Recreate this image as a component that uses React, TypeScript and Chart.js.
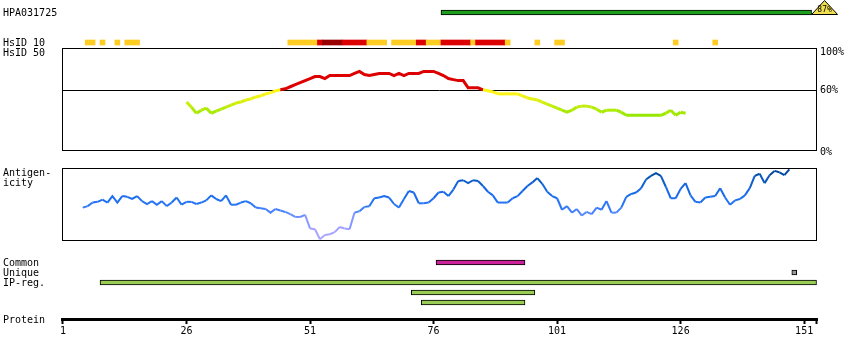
import React, { useEffect, useRef } from "react";
import { Chart, registerables } from "chart.js";

Chart.register(...registerables);

// ---------------- data ----------------
const PROTEIN_LENGTH = 153;
const TICK_VALUES = [1, 26, 51, 76, 101, 126, 151];

const ANTIBODY_ID = "HPA031725";
const ANTIBODY_STARTS = [78];
const ANTIBODY_ENDS = [152];
const ANTIBODY_IDENTITY = "87%";

const ROW_LABELS = ["HsID 10", "HsID 50", "Antigen-", "icity", "Common", "Unique", "IP-reg.", "Protein"];

// HsID 10 segments (residue ranges), level 0 = yellow, 1 = red, 2 = dark red
const HSID10_STARTS = [6, 9, 12, 14, 47, 53, 54, 58, 63, 68, 73, 75, 78, 84, 85, 91, 97, 101, 125, 133];
const HSID10_ENDS = [7, 9, 12, 16, 52, 53, 57, 62, 66, 72, 74, 77, 83, 84, 90, 91, 97, 102, 125, 133];
const HSID10_LEVELS = [0, 0, 0, 0, 0, 1, 2, 1, 0, 0, 1, 0, 1, 0, 1, 0, 0, 0, 0, 0];

// HsID 50 identity (%) per residue, starting at residue 26
const IDENTITY_START = 26;
const IDENTITY_VALUES = [
  48, 43, 37, 40, 42, 37, 39, 41, 43, 45,
  47, 48, 50, 51, 53, 54, 56, 57, 59, 60,
  61, 63, 65, 67, 69, 71, 73, 73, 71, 74,
  74, 74, 74, 74, 76, 78, 75, 74, 75, 76,
  76, 76, 74, 76, 74, 76, 76, 76, 78, 78,
  78, 76, 74, 71, 70, 69, 69, 62, 62, 62,
  60, 59, 58, 56, 56, 56, 56, 56, 54, 52,
  51, 50, 48, 46, 44, 42, 40, 38, 40, 43,
  44, 44, 43, 41, 38, 40, 40, 40, 38, 35,
  35, 35, 35, 35, 35, 35, 35, 37, 40, 35,
  38, 37,
];
const IDENTITY_THRESHOLD = 60;
const IDENTITY_AXIS_LABELS = [100, 60, 0];

// Antigenicity (relative 0-100) per residue, starting at residue 5
const ANTIGEN_START = 5;
const ANTIGEN_VALUES = [
  45, 47, 52, 53, 56, 52, 61, 52, 61, 60,
  57, 61, 54, 50, 54, 49, 54, 47, 52, 59,
  49, 53, 53, 50, 52, 55, 62, 57, 54, 62,
  49, 49, 52, 54, 51, 45, 44, 43, 38, 43,
  41, 39, 36, 32, 32, 35, 16, 15, 1, 7,
  8, 11, 18, 16, 15, 38, 40, 46, 47, 58,
  59, 61, 59, 50, 45, 57, 68, 66, 51, 51,
  52, 58, 66, 67, 61, 70, 82, 83, 79, 83,
  82, 75, 67, 62, 52, 52, 52, 58, 61, 68,
  75, 80, 86, 78, 67, 61, 58, 42, 47, 38,
  43, 34, 39, 36, 45, 42, 54, 38, 38, 45,
  60, 64, 66, 72, 84, 89, 93, 89, 74, 58,
  58, 71, 79, 62, 53, 52, 59, 60, 61, 72,
  59, 49, 55, 57, 62, 72, 89, 92, 79, 90,
  96, 94, 90, 98,
];

const COMMON_STARTS = [77];
const COMMON_ENDS = [94];
const UNIQUE_STARTS = [149];
const UNIQUE_ENDS = [149];
const IPREG_STARTS = [9, 72, 74];
const IPREG_ENDS = [153, 96, 94];

// ---------------- layout & style ----------------
const W = 850;
const H = 360;
const PLOT_LEFT = 62;
const PLOT_RIGHT = 817;
const X_MIN = 0.8;
const X_MAX = 153.6;
const FONT = '"DejaVu Sans Mono", monospace';

const ROW_Y = {
  antibody: 12.5,
  hsid10: 42.5,
  hsid50: 52.5,
  antigen1: 172.5,
  antigen2: 183,
  common: 262.5,
  unique: 272.5,
  ipreg: [282.5, 292.5, 302.5],
  protein: 319.5,
};
const ID_PANEL = { top: 48, bottom: 150, px0: 151, px100: 49 };
const AG_PANEL = { top: 168, bottom: 240, px0: 240, px100: 168 };

const HSID_COLORS = ["#ffcc22", "#dd0000", "#990000"];

function rangeFor(pxAtLow: number, pxAtHigh: number, vLow: number, vHigh: number) {
  const s = (pxAtLow - pxAtHigh) / (vHigh - vLow);
  const min = vLow - (H - pxAtLow) / s;
  return { min, max: min + H / s };
}

function mix(a: number[], b: number[], t: number) {
  return a.map((v, i) => Math.round(v + (b[i] - v) * t));
}

function identityColor(v: number) {
  if (v > IDENTITY_THRESHOLD) return "#dd0000";
  const t = Math.max(0, Math.min(1, (v - 35) / (57 - 35)));
  const c = mix([150, 232, 0], [255, 245, 20], t);
  return `rgb(${c[0]},${c[1]},${c[2]})`;
}

const AG_STOPS: [number, number[]][] = [
  [0, [175, 170, 255]],
  [20, [160, 160, 255]],
  [35, [100, 140, 255]],
  [45, [50, 122, 250]],
  [55, [30, 112, 240]],
  [75, [20, 100, 225]],
  [90, [0, 80, 170]],
  [100, [10, 60, 140]],
];
function antigenColor(v: number) {
  for (let i = 1; i < AG_STOPS.length; i++) {
    const [v1, c1] = AG_STOPS[i];
    const [v0, c0] = AG_STOPS[i - 1];
    if (v <= v1) {
      const c = mix(c0, c1, (v - v0) / (v1 - v0));
      return `rgb(${c[0]},${c[1]},${c[2]})`;
    }
  }
  return "rgb(10,60,140)";
}

function ranges(starts: number[], ends: number[], y: number | number[]) {
  return starts.map((s, i) => ({ x: [s - 0.5, ends[i] + 0.5], y: Array.isArray(y) ? y[i] : y }));
}

const overlay = {
  id: "overlay",
  beforeDatasetsDraw(chart: any) {
    const { ctx, chartArea, scales } = chart;
    ctx.save();
    ctx.strokeStyle = "#000";
    ctx.lineWidth = 1;
    const l = chartArea.left + 0.5;
    const r = chartArea.right - 0.5;
    for (const p of [ID_PANEL, AG_PANEL]) {
      ctx.strokeRect(l, p.top + 0.5, r - l, p.bottom - p.top);
    }
    const y60 = Math.round(scales.yId.getPixelForValue(IDENTITY_THRESHOLD)) + 0.5;
    ctx.beginPath();
    ctx.moveTo(l, y60);
    ctx.lineTo(r, y60);
    ctx.stroke();
    ctx.restore();
  },
  afterDatasetsDraw(chart: any) {
    const { ctx, scales } = chart;
    const xEnd = scales.x.getPixelForValue(ANTIBODY_ENDS[0] + 0.5);
    const base = scales.yTrack.getPixelForValue(ROW_Y.antibody) + 2;
    ctx.save();
    ctx.beginPath();
    ctx.moveTo(xEnd, base);
    ctx.lineTo(xEnd + 26, base);
    ctx.lineTo(xEnd + 13, 0.5);
    ctx.closePath();
    ctx.fillStyle = "#f0e050";
    ctx.fill();
    ctx.strokeStyle = "#000";
    ctx.lineWidth = 1;
    ctx.stroke();
    ctx.fillStyle = "#000";
    ctx.font = `8px ${FONT}`;
    ctx.textAlign = "center";
    ctx.textBaseline = "middle";
    ctx.fillText(ANTIBODY_IDENTITY, xEnd + 13, 10);
    ctx.restore();
  },
  afterDraw(chart: any) {
    const { ctx, chartArea, scales } = chart;
    ctx.save();
    ctx.fillStyle = "#000";
    ctx.font = `10px ${FONT}`;
    ctx.textAlign = "left";
    ctx.textBaseline = "middle";
    const ys = [ROW_Y.hsid10, ROW_Y.hsid50, ROW_Y.antigen1, ROW_Y.antigen2, ROW_Y.common, ROW_Y.unique, ROW_Y.ipreg[0], ROW_Y.protein];
    ctx.fillText(ANTIBODY_ID, 3, ROW_Y.antibody + 0.5);
    ROW_LABELS.forEach((t, i) => ctx.fillText(t, 3, ys[i] + 0.5));
    const offs = [3, 0, 1];
    IDENTITY_AXIS_LABELS.forEach((v, i) => {
      const y = Math.round(scales.yId.getPixelForValue(v)) + offs[i];
      ctx.fillText(`${v}%`, chartArea.right + 3, y);
    });
    ctx.restore();
  },
};

export default function App() {
  const ref = useRef<HTMLCanvasElement | null>(null);

  useEffect(() => {
    if (!ref.current) return;
    const idRange = rangeFor(ID_PANEL.px0, ID_PANEL.px100, 0, 100);
    const agRange = rangeFor(AG_PANEL.px0, AG_PANEL.px100, 0, 100);

    const barCommon = {
      type: "bar" as const,
      indexAxis: "y" as const,
      xAxisID: "x",
      yAxisID: "yTrack",
      barThickness: 5,
      grouped: false,
      borderSkipped: false,
      borderWidth: 1,
      borderColor: "#000",
    };

    const chart = new Chart(ref.current, {
      type: "line",
      data: {
        datasets: [
          {
            ...barCommon,
            label: ANTIBODY_ID,
            data: ranges(ANTIBODY_STARTS, ANTIBODY_ENDS, ROW_Y.antibody),
            backgroundColor: "#1e9e1e",
          } as any,
          {
            ...barCommon,
            label: "HsID 10",
            data: ranges(HSID10_STARTS, HSID10_ENDS, ROW_Y.hsid10),
            backgroundColor: HSID10_LEVELS.map((l) => HSID_COLORS[l]),
            borderWidth: 0,
          } as any,
          {
            ...barCommon,
            label: "Common",
            data: ranges(COMMON_STARTS, COMMON_ENDS, ROW_Y.common),
            backgroundColor: "#cc2299",
          } as any,
          {
            ...barCommon,
            label: "Unique",
            data: ranges(UNIQUE_STARTS, UNIQUE_ENDS, ROW_Y.unique),
            backgroundColor: "#999999",
          } as any,
          {
            ...barCommon,
            label: "IP-reg.",
            data: ranges(IPREG_STARTS, IPREG_ENDS, ROW_Y.ipreg),
            backgroundColor: "#99cc55",
          } as any,
          {
            type: "line",
            label: "HsID 50",
            xAxisID: "x",
            yAxisID: "yId",
            data: IDENTITY_VALUES.map((v, i) => ({ x: IDENTITY_START + i, y: v })),
            borderWidth: 3,
            pointRadius: 0,
            tension: 0,
            borderColor: "#dd0000",
            segment: {
              borderColor: (c: any) => identityColor((c.p0.parsed.y + c.p1.parsed.y) / 2),
            },
          } as any,
          {
            type: "line",
            label: "Antigenicity",
            xAxisID: "x",
            yAxisID: "yAg",
            data: ANTIGEN_VALUES.map((v, i) => ({ x: ANTIGEN_START + i, y: v })),
            borderWidth: 2,
            pointRadius: 0,
            tension: 0,
            borderColor: "#2277ee",
            segment: {
              borderColor: (c: any) => antigenColor((c.p0.parsed.y + c.p1.parsed.y) / 2),
            },
          } as any,
        ],
      },
      options: {
        responsive: false,
        devicePixelRatio: 1,
        animation: false,
        events: [],
        layout: { padding: { left: PLOT_LEFT, right: W - PLOT_RIGHT, top: 0, bottom: 0 } },
        plugins: { legend: { display: false }, tooltip: { enabled: false } },
        scales: {
          x: {
            type: "linear",
            axis: "x",
            min: X_MIN,
            max: X_MAX,
            offset: false,
            position: { yTrack: ROW_Y.protein } as any,
            afterBuildTicks: (axis: any) => {
              axis.ticks = [...TICK_VALUES, PROTEIN_LENGTH + 0.5].map((v) => ({ value: v }));
            },
            grid: {
              display: true,
              drawOnChartArea: false,
              drawTicks: true,
              tickLength: 3,
              tickWidth: 2,
              tickColor: "#000",
              color: "#000",
            },
            border: { display: true, width: 3, color: "#000" },
            ticks: {
              autoSkip: false,
              maxRotation: 0,
              color: "#000",
              padding: 3,
              font: { family: FONT, size: 10 },
              callback: (v: any) => (TICK_VALUES.includes(Number(v)) ? String(v) : ""),
            },
          } as any,
          yTrack: {
            type: "linear",
            axis: "y",
            min: 0,
            max: H,
            reverse: true,
            offset: false,
            display: false,
          } as any,
          yId: {
            type: "linear",
            axis: "y",
            min: idRange.min,
            max: idRange.max,
            offset: false,
            display: false,
          } as any,
          yAg: {
            type: "linear",
            axis: "y",
            min: agRange.min,
            max: agRange.max,
            offset: false,
            display: false,
          } as any,
        },
      } as any,
      plugins: [overlay],
    });
    return () => chart.destroy();
  }, []);

  return (
    <div style={{ position: "absolute", left: 0, top: 0, width: W, height: H, background: "#fff" }}>
      <canvas ref={ref} width={W} height={H} style={{ display: "block" }} />
    </div>
  );
}
